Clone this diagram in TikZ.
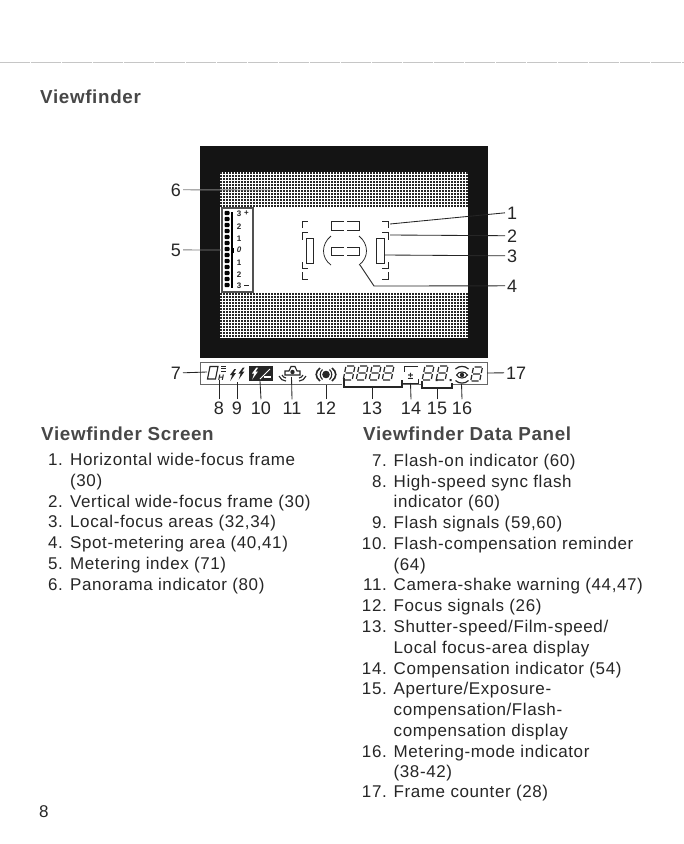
\documentclass[tikz,border=0pt]{standalone}
\usepackage{fontspec}
\setmainfont[LetterSpace=3.5]{Liberation Sans}
\newfontfamily\plainfont{Liberation Sans}
\definecolor{ink}{HTML}{262626}
\newcommand{\fsl}{/}
\newcommand{\segdigit}[2]{%
  \begin{scope}[shift={(#1,#2)},xslant=0.2,line width=1.25pt,draw=ink]
    \draw (1,0)--(8,0) (1,7)--(8,7) (1,14)--(8,14)
          (0,1)--(0,6) (0,8)--(0,13) (9,1)--(9,6) (9,8)--(9,13);
  \end{scope}}
\newcommand{\bolt}[3]{%
  \fill[#3,shift={(#1,#2)}] (2.4,0)--(-2,6)--(0.2,6)--(-1.8,12)--(3.8,4.2)--(1.4,4.2)--(4.2,0)--cycle;}
\tikzset{
  x=1pt,y=-1pt,
  lead/.style={draw=ink,line width=0.85pt},
  thin mark/.style={draw=ink,line width=0.75pt},
  num/.style={font=\plainfont\fontsize{18}{20}\selectfont,text=ink,inner sep=2pt},
  body/.style={font=\fontsize{17}{20}\selectfont,text=ink,anchor=base west,inner sep=0pt},
  itemno/.style={font=\fontsize{17}{20}\selectfont,text=ink,anchor=base east,inner sep=0pt},
  head/.style={font=\fontsize{18.8}{21}\selectfont\bfseries,text=ink!85,anchor=base west,inner sep=0pt},
  scale txt/.style={font=\plainfont\fontsize{8}{9}\selectfont\bfseries,text=ink,inner sep=0pt},
}
\begin{document}
\begin{tikzpicture}
\useasboundingbox (0,0) rectangle (684,844);
\fill[white] (0,0) rectangle (684,844);
\draw[gray!45,line width=0.5pt,dash pattern=on 30pt off 1pt] (0,62)--(684,62);

% screen
\fill[black!92] (200,146) rectangle (488,358);
\fill[white] (220,172) rectangle (468,338);
\foreach \y in {173,176,...,206}
  \draw[black!85,line width=1.7pt,dash pattern=on 1.8pt off 1.2pt] (220,\y)--(468,\y);
\foreach \y in {294,297,...,337}
  \draw[black!85,line width=1.7pt,dash pattern=on 1.8pt off 1.2pt] (220,\y)--(468,\y);
\fill[white] (220,207) rectangle (468,293);

% metering index
\draw[ink!80,line width=1.3pt,fill=white] (222,208) rectangle (253,292);
\foreach \y in {213,219,...,285} \fill[black,rounded corners=1pt] (224.5,\y-2.2) rectangle (229.5,\y+2.2);
\draw[black,line width=1.2pt] (232,212)--(232,288);
\fill[black] (231,248) rectangle (234,253);
\node[scale txt] (s3p) at (239,214) {3};
\node[scale txt] (sp) at (246.5,213.5) {+};
\node[scale txt] (s2p) at (239,226.5) {2};
\node[scale txt] (s1p) at (239,238.5) {1};
\node[scale txt] (s0) at (239,250) {\itshape 0};
\node[scale txt] (s1m) at (239,262.5) {1};
\node[scale txt] (s2m) at (239,274.5) {2};
\node[scale txt] (s3m) at (239,286) {3};
\draw[ink,line width=1.1pt] (244,285.5)--(249,285.5);

% focus marks
\draw[thin mark] (302,228)--(302,221)--(308,221);
\draw[thin mark] (302,272)--(302,279)--(308,279);
\draw[thin mark] (382,221)--(388,221)--(388,228);
\draw[thin mark] (388,272)--(388,279)--(382,279);
\draw[thin mark] (308,232)--(302,232)--(302,240);
\draw[thin mark] (302,262)--(302,268)--(308,268);
\draw[thin mark] (382,232)--(388,232)--(388,240);
\draw[thin mark] (388,262)--(388,268)--(382,268);
\draw[thin mark] (306,238.5) rectangle (313,263.5);
\draw[thin mark] (376,238) rectangle (384,263);
\draw[thin mark] (344,221)--(331.5,221)--(331.5,230)--(344,230);
\draw[thin mark] (347,221)--(359,221)--(359,230)--(347,230);
\draw[thin mark] (344,247)--(331,247)--(331,255)--(344,255);
\draw[thin mark] (347,247)--(359,247)--(359,255)--(347,255);
\draw[thin mark] (331,236) .. controls (321,244) and (321,258) .. (331,265);
\draw[thin mark] (359,236) .. controls (369,244) and (369,258) .. (359,265);

% data panel
\draw[ink!70,line width=0.7pt] (200,384)--(200,362)--(487,362);
\draw[ink!70,line width=0.7pt] (200,384)--(342,384);
\draw[ink!70,line width=0.7pt] (402,384)--(421,384) (453,384)--(487,384)--(487,362);

% 7
\begin{scope}[shift={(210,366.5)},xslant=0.2]
  \draw[ink,line width=1.1pt] (0,0) rectangle (8,12.5);
\end{scope}
\node[font=\plainfont\fontsize{8}{9}\selectfont\itshape\bfseries,text=ink,inner sep=0pt] (hmark) at (221,378) {H};
\draw[ink,line width=0.7pt] (221,366)--(226,366) (221,368.5)--(226,368.5) (221,371)--(226,371);
% 9
\bolt{232}{369}{ink}
\bolt{240.5}{367.5}{ink}
% 10
\fill[ink] (249,366) rectangle (273,381);
\bolt{254}{367.5}{white}
\draw[white,line width=1pt] (260,379)--(270,369);
\draw[white,line width=2pt] (264,377)--(271,377);
% 11
\draw[ink,line width=1.1pt] (285,375)--(285,371)--(289,371)--(291,366.5)--(295,366.5)--(297,371)--(300,371)--(300,375)--cycle;
\fill[ink] (292.5,372) circle[radius=2.2];
\draw[ink,line width=1.1pt] (279,376) .. controls (280,379) and (283,381) .. (286,381);
\draw[ink,line width=1.1pt] (282,375) .. controls (283,376.5) and (284,378) .. (286,378);
\draw[ink,line width=1.1pt] (306,376) .. controls (305,379) and (302,381) .. (299,381);
\draw[ink,line width=1.1pt] (303,375) .. controls (302,376.5) and (301,378) .. (299,378);
% 12
\fill[ink] (326,374.5) circle[radius=3.8];
\draw[ink,line width=1.6pt] (320,368) .. controls (315,372) and (315,377) .. (320,381);
\draw[ink,line width=1.6pt] (332,368) .. controls (337,372) and (337,377) .. (332,381);
\draw[ink,line width=1.1pt] (322.5,369.5) .. controls (319.5,372) and (319.5,377) .. (322.5,379.5);
\draw[ink,line width=1.1pt] (329.5,369.5) .. controls (332.5,372) and (332.5,377) .. (329.5,379.5);
% 13
\foreach \x in {346,359,372,385} \segdigit{\x}{366}
\draw[ink,line width=1.3pt] (344,378)--(344,387)--(402,387)--(402,380);
% 14
\draw[ink,line width=0.9pt] (418,366)--(404,366)--(404,372);
\node[font=\plainfont\fontsize{10}{11}\selectfont\bfseries,text=ink,inner sep=0pt] (pm) at (410.5,376) {±};
\draw[ink,line width=0.9pt] (403,383)--(418,383)--(418,379);
% 15
\segdigit{425}{366}
\segdigit{439}{366}
\fill[ink] (435.5,379) rectangle (437.5,381) (449.5,379) rectangle (451.5,381);
\draw[ink,line width=1.3pt] (422,381)--(422,388)--(452,388)--(452,383);
% 16
\draw[ink,line width=1.2pt] (455.5,369) .. controls (459,365.5) and (465,365.5) .. (468.5,369);
\draw[ink,line width=1.2pt] (455.5,380.5) .. controls (459,384) and (465,384) .. (468.5,380.5);
\draw[ink,line width=1.1pt] (456.5,375) .. controls (459,371) and (465,371) .. (467.5,375) .. controls (465,379) and (459,379) .. (456.5,375);
\fill[ink] (462,375) circle[radius=2.2];
% 17
\segdigit{473.5}{367}

% named leader ends
\coordinate (e1) at (390,224);
\coordinate (e2) at (390,235);
\coordinate (e3) at (385,255);
\coordinate (e4) at (360,265);
\coordinate (k4) at (374,286);
\coordinate (e5) at (222,250);
\coordinate (e6) at (273,190);
\coordinate (e7) at (207,372);
\coordinate (e8) at (219,380);
\coordinate (e9) at (237,382);
\coordinate (e10) at (260,381);
\coordinate (e11) at (291.5,377);
\coordinate (e12) at (326,385);
\coordinate (e13) at (372,387);
\coordinate (e14) at (410.5,383);
\coordinate (e15) at (437,388);
\coordinate (e16) at (461.5,384);
\coordinate (e17) at (487,373);

% callout numbers
\node[num,anchor=base east] (n6) at (183,196) {6};
\node[num,anchor=base east] (n5) at (183,256) {5};
\node[num,anchor=base east] (n7) at (183,379) {7};
\node[num,anchor=base west] (n1) at (505,219) {1};
\node[num,anchor=base west] (n2) at (505,242) {2};
\node[num,anchor=base west] (n3) at (505,262) {3};
\node[num,anchor=base west] (n4) at (505,292) {4};
\node[num,anchor=base west] (n17) at (504,379) {17};
\node[num,anchor=base] (n8) at (219,414) {8};
\node[num,anchor=base] (n9) at (237,414) {9};
\node[num,anchor=base] (n10) at (261,414) {10};
\node[num,anchor=base] (n11) at (292,414) {11};
\node[num,anchor=base] (n12) at (326,414) {12};
\node[num,anchor=base] (n13) at (372,414) {13};
\node[num,anchor=base] (n14) at (411,414) {14};
\node[num,anchor=base] (n15) at (437,414) {15};
\node[num,anchor=base] (n16) at (462,414) {16};

% connectors
\draw[lead] (n1.west) -- (e1);
\draw[lead] (n2.west) -- (e2);
\draw[lead] (n3.west) -- (e3);
\draw[lead] (n4.west) -- (k4) -- (e4);
\draw[lead,draw=gray] (n5.east) -- (e5);
\draw[lead,draw=gray] (n6.east) -- (e6);
\draw[lead] (n7.east) -- (e7);
\draw[lead] (n17.west) -- (e17);
\foreach \i in {8,...,16} \draw[lead] (n\i.north) -- (e\i);

% text
\node[head] (title) at (40,103) {Viewfinder};
\node[head] (hleft) at (41,440) {Viewfinder Screen};
\node[head] (hright) at (363,440) {Viewfinder Data Panel};

\foreach \n/\y/\t [count=\k] in {
 1./465.5/Horizontal wide-focus frame,
 /486.5/(30),
 2./507/Vertical wide-focus frame (30),
 3./527.5/Local-focus areas (32{,}34),
 4./548/Spot-metering area (40{,}41),
 5./569/Metering index (71),
 6./590/Panorama indicator (80)}{
  \node[itemno] (la\k) at (63,\y) {\n};
  \node[body] (lb\k) at (70,\y) {\t};
}
\foreach \n/\y/\t [count=\k] in {
 7./466.5/Flash-on indicator (60),
 8./487/High-speed sync flash,
 /507.5/indicator (60),
 9./528/Flash signals (59{,}60),
 10./549/Flash-compensation reminder,
 /570/(64),
 11./590.5/Camera-shake warning (44{,}47),
 12./611/Focus signals (26),
 13./632/Shutter-speed\fsl Film-speed\fsl,
 /653/Local focus-area display,
 14./674/Compensation indicator (54),
 15./694/Aperture\fsl Exposure-,
 /715/compensation\fsl Flash-,
 /736/compensation display,
 16./757/Metering-mode indicator,
 /777/(38-42),
 17./797/Frame counter (28)}{
  \node[itemno] (ra\k) at (387,\y) {\n};
  \node[body] (rb\k) at (393.5,\y) {\t};
}
\node[body] (page) at (39,817) {8};
\end{tikzpicture}
\end{document}
